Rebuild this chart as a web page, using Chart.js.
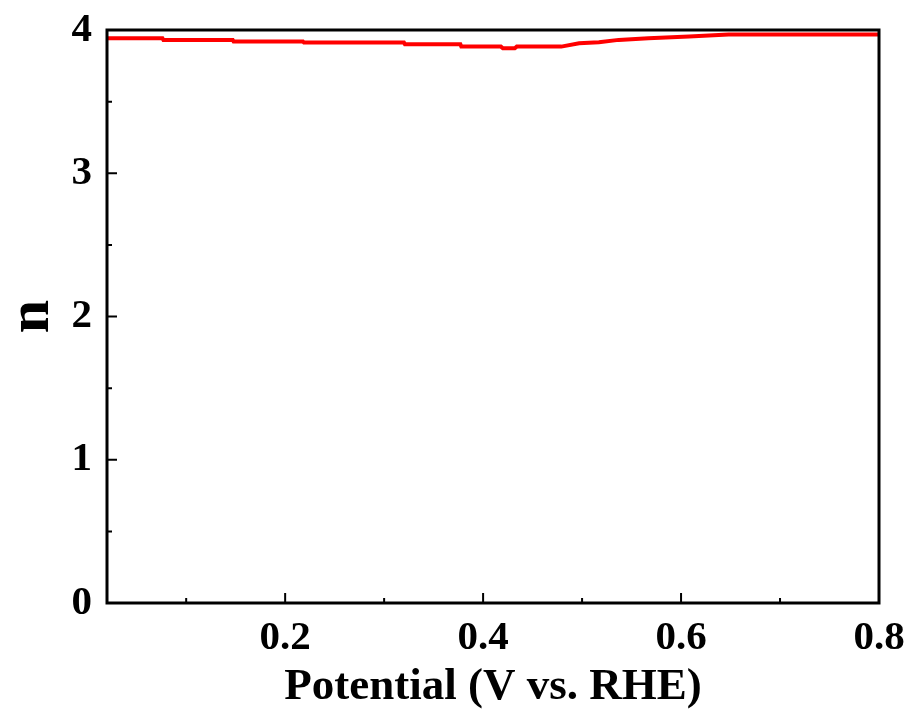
<!DOCTYPE html>
<html>
<head>
<meta charset="utf-8">
<script src="https://cdn.jsdelivr.net/npm/chart.js@4.4.1/dist/chart.umd.min.js"></script>
<style>
  html, body { margin: 0; padding: 0; background: #ffffff; }
  #wrap { width: 910px; height: 713px; }
</style>
</head>
<body>
<div id="wrap"><canvas id="nChart" width="910" height="713"></canvas></div>
<script>
// Potential (V vs. RHE) and electron transfer number n
const potential = [0.020, 0.076, 0.077, 0.147, 0.148, 0.218, 0.219, 0.320, 0.321, 0.377, 0.378, 0.418,
                   0.420, 0.432, 0.434, 0.479, 0.497, 0.517, 0.537, 0.567, 0.608, 0.648, 0.800];
const nValues   = [3.943, 3.943, 3.931, 3.931, 3.919, 3.919, 3.912, 3.912, 3.901, 3.901, 3.884, 3.884,
                   3.873, 3.873, 3.884, 3.884, 3.908, 3.915, 3.931, 3.943, 3.954, 3.968, 3.968];

// tick labels
const xTickValues = [0.2, 0.4, 0.6, 0.8];
const xMinorTicks = [0.1, 0.3, 0.5, 0.7];
const yTickValues = [0, 1, 2, 3, 4];
const yMinorTicks = [0.5, 1.5, 2.5, 3.5];

const serif = "'Liberation Serif', 'Times New Roman', serif";

// Frame box and inward tick marks, placed through the chart's own scales
const frameTicks = {
    id: 'frameTicks',
    afterDraw(chart) {
        const ctx = chart.ctx;
        const area = chart.chartArea;
        const xs = chart.scales.x;
        const ys = chart.scales.y;
        ctx.save();
        ctx.strokeStyle = '#000000';

        ctx.lineWidth = 2;
        ctx.beginPath();
        xTickValues.forEach(v => {
            const px = xs.getPixelForValue(v);
            ctx.moveTo(px, area.bottom);
            ctx.lineTo(px, area.bottom - 10);
        });
        xMinorTicks.forEach(v => {
            const px = xs.getPixelForValue(v);
            ctx.moveTo(px, area.bottom);
            ctx.lineTo(px, area.bottom - 5);
        });
        yTickValues.forEach(v => {
            const py = ys.getPixelForValue(v);
            ctx.moveTo(area.left, py);
            ctx.lineTo(area.left + 10, py);
        });
        yMinorTicks.forEach(v => {
            const py = ys.getPixelForValue(v);
            ctx.moveTo(area.left, py);
            ctx.lineTo(area.left + 5, py);
        });
        ctx.stroke();

        ctx.lineWidth = 3;
        ctx.strokeRect(area.left, area.top, area.right - area.left, area.bottom - area.top);
        ctx.restore();
    }
};

new Chart(document.getElementById('nChart'), {
    type: 'line',
    data: {
        datasets: [{
            label: 'n',
            data: potential.map((p, i) => ({ x: p, y: nValues[i] })),
            borderColor: '#ff0000',
            borderWidth: 4,
            pointRadius: 0,
            tension: 0,
            fill: false
        }]
    },
    options: {
        responsive: false,
        animation: false,
        devicePixelRatio: 1,
        layout: { padding: { left: 0, right: 31, top: 30, bottom: 0 } },
        plugins: {
            legend: { display: false },
            tooltip: { enabled: false }
        },
        scales: {
            x: {
                type: 'linear',
                min: 0.02,
                max: 0.8,
                grid: { display: false, drawTicks: false },
                border: { display: false },
                afterBuildTicks: scale => { scale.ticks = xTickValues.map(v => ({ value: v })); },
                afterFit: scale => {
                    scale.height = 110;
                    scale.paddingLeft = 0;
                    scale.paddingRight = 0;
                },
                ticks: {
                    padding: 15,
                    color: '#000000',
                    font: { family: serif, size: 41, weight: 'bold', lineHeight: 1 },
                    callback: v => v.toFixed(1)
                },
                title: {
                    display: true,
                    text: 'Potential (V vs. RHE)',
                    color: '#000000',
                    padding: { top: 0, bottom: 3 },
                    font: { family: serif, size: 45, weight: 'bold', lineHeight: 1 }
                }
            },
            y: {
                min: 0,
                max: 4,
                grid: { display: false, drawTicks: false },
                border: { display: false },
                afterBuildTicks: scale => { scale.ticks = yTickValues.map(v => ({ value: v })); },
                afterFit: scale => {
                    scale.width = 107;
                    scale.paddingTop = 0;
                    scale.paddingBottom = 0;
                },
                ticks: {
                    padding: 15,
                    color: '#000000',
                    font: { family: serif, size: 41, weight: 'bold', lineHeight: 1 },
                    callback: v => String(v)
                },
                title: {
                    display: true,
                    text: 'n',
                    color: '#000000',
                    padding: { top: 2, bottom: 0 },
                    font: { family: serif, size: 60, weight: 'bold', lineHeight: 1 }
                }
            }
        }
    },
    plugins: [frameTicks]
});
</script>
</body>
</html>
